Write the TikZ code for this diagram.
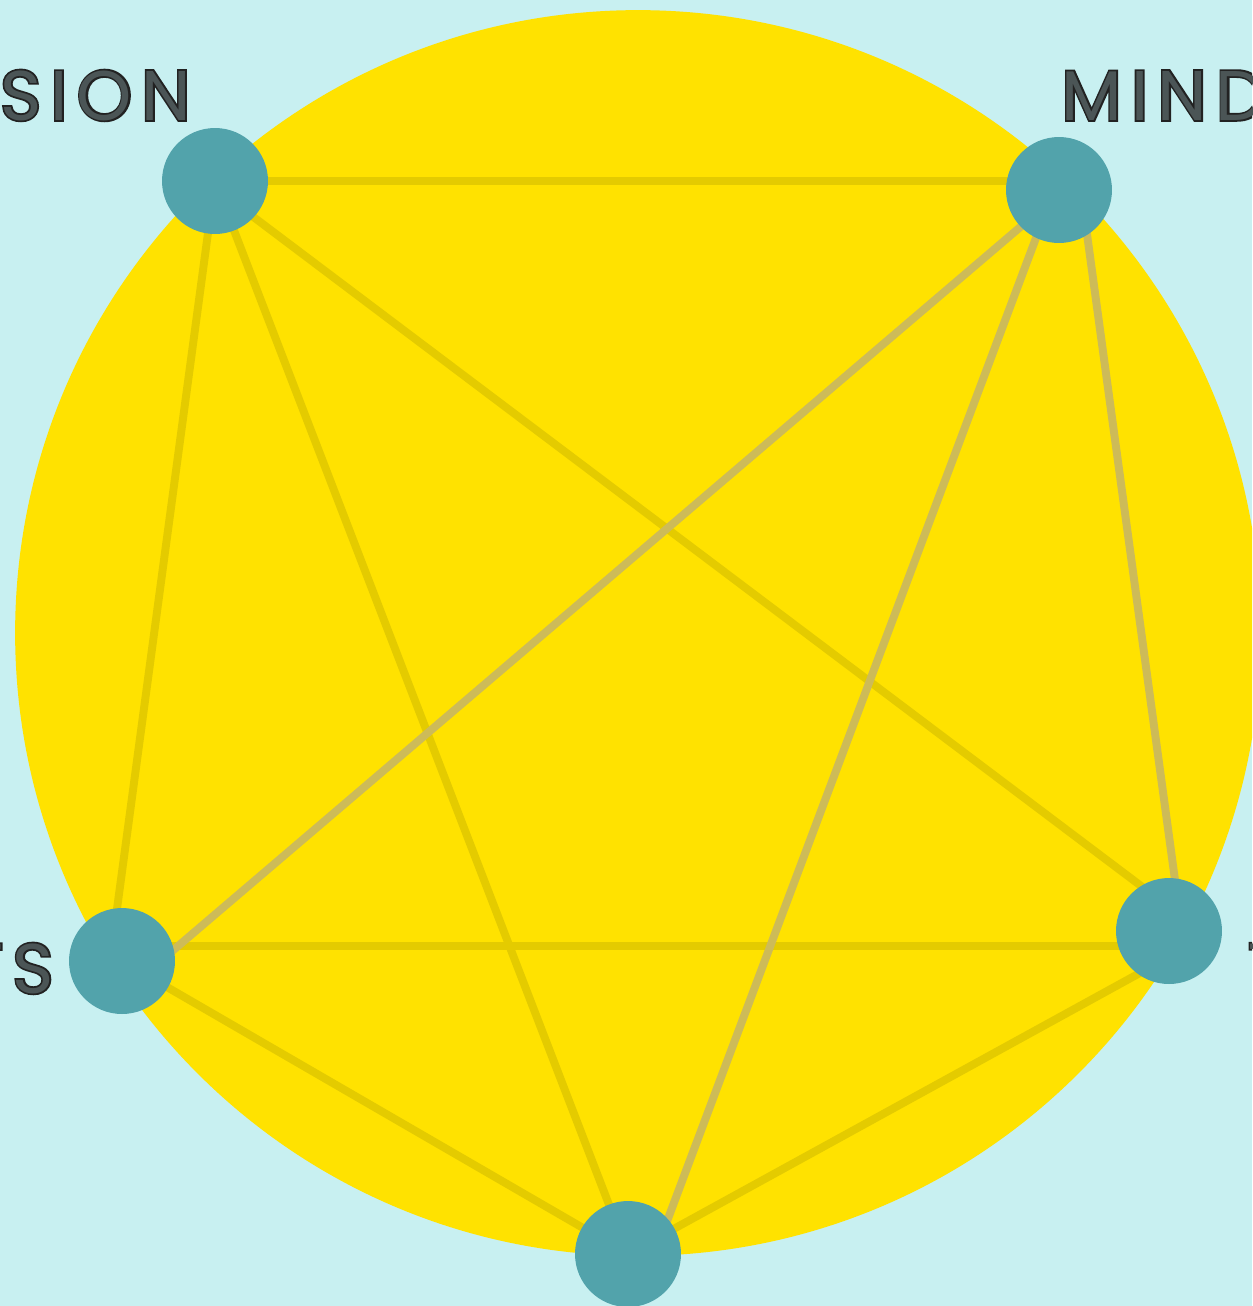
\documentclass[tikz,border=0pt]{standalone}
\usepackage{fontspec}
\setmainfont{Poppins}
\definecolor{bgc}{HTML}{C8F0F1}
\definecolor{sun}{HTML}{FFE200}
\definecolor{teal1}{HTML}{52A3AB}
\definecolor{lineA}{HTML}{E4CB00}
\definecolor{lineB}{HTML}{CDBB58}
\definecolor{ink}{HTML}{222222}
\newcommand{\hollow}[1]{\makebox[0pt][l]{\addfontfeatures{FakeBold=5}\color{ink}#1}{\color{ink!75!bgc}#1}}
\begin{document}
\begin{tikzpicture}[x=0.02cm,y=-0.02cm,
  dot/.style={circle,fill=teal1,minimum size=2.12cm,inner sep=0pt},
  edgeA/.style={draw=lineA,line width=4.5pt},
  edgeB/.style={draw=lineB,line width=4.5pt},
  lab/.style={font=\fontsize{40}{40}\selectfont\addfontfeatures{LetterSpace=13},text=ink,inner sep=0pt}]
\clip (0,0) rectangle (1252,1306);
\fill[bgc] (0,0) rectangle (1252,1306);
\fill[sun] (638,633) circle[radius=12.46cm];
% node centres
\coordinate (sion) at (215,181);
\coordinate (mind) at (1059,190);
\coordinate (ts) at (122,961);
\coordinate (rt) at (1169,931);
\coordinate (bt) at (628,1254);
% connector ends (lines meet the nodes slightly off centre)
\coordinate (sionA) at (215,181);
\coordinate (mindA) at (1059,181);
\coordinate (tsA) at (122,946);
\coordinate (rtA) at (1169,946);
\coordinate (sionB) at (215,181);
\coordinate (tsB) at (110,961);
\coordinate (sionC) at (215,188);
\coordinate (rtC) at (1169,907);
\coordinate (rtD) at (1169,957);
\coordinate (mindE) at (1059,194);
\coordinate (tsE) at (150,970);
\coordinate (mindF) at (1054,190);
\coordinate (btF) at (660,1240);
\coordinate (mindG) at (1081,190);
\coordinate (rtG) at (1175,880);
\draw[edgeA] (sionA) -- (mindA);
\draw[edgeA] (tsA) -- (rtA);
\draw[edgeA] (sionB) -- (tsB);
\draw[edgeA] (sion) -- (bt);
\draw[edgeA] (sionC) -- (rtC);
\draw[edgeA] (ts) -- (bt);
\draw[edgeA] (bt) -- (rtD);
\draw[edgeB] (mindE) -- (tsE);
\draw[edgeB] (mindF) -- (btF);
\draw[edgeB] (mindG) -- (rtG);
\node[dot] (nsion) at (sion) {};
\node[dot] (nmind) at (mind) {};
\node[dot] (nts) at (ts) {};
\node[dot] (nrt) at (rt) {};
\node[dot] (nbt) at (bt) {};
\node[lab,anchor=base east] (tsion) at (191,120) {\hollow{SION}};
\node[lab,anchor=base west] (tmind) at (1061,120) {\hollow{MIND}};
\node[lab,anchor=base east] (tts) at (54,993) {\hollow{TS}};
\node[lab,anchor=base west] (trt) at (1246,972) {\hollow{-}};
\end{tikzpicture}
\end{document}
